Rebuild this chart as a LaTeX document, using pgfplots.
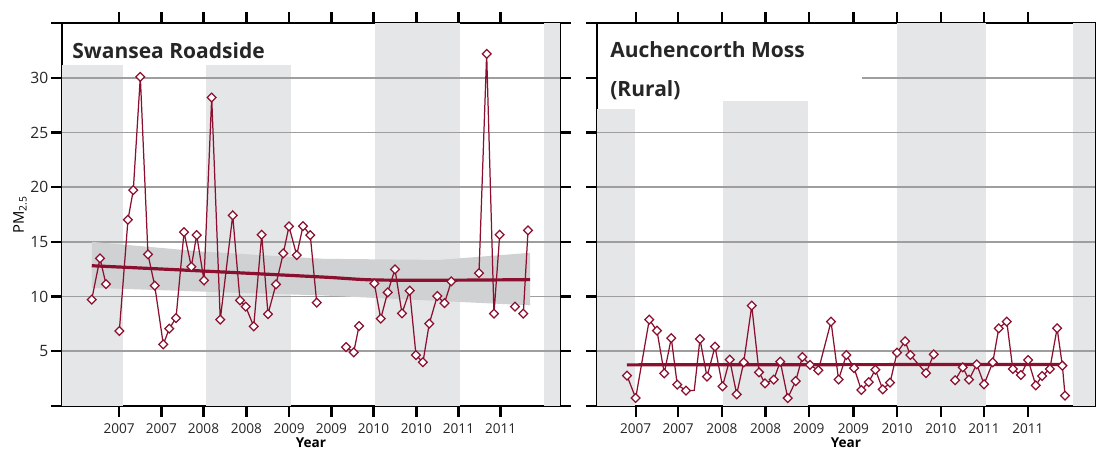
\documentclass[border=0pt]{standalone}
\usepackage{fontspec}
\setmainfont{Open Sans}
\usepackage{pgfplots}
\usepackage{pgfplotstable}
\pgfplotsset{compat=1.18}
\definecolor{dred}{RGB}{139,16,48}
\definecolor{bandgray}{RGB}{229,230,231}
\definecolor{cigray}{RGB}{208,209,211}
\definecolor{gridgray}{RGB}{158,158,158}
\tikzset{gl/.style={gridgray, line width=0.85pt}}

% left panel: x = months since Jan 2007
\pgfplotstableread{
x y
-4.41 9.72
-3.23 13.49
-2.38 11.14
nan nan
-0.48 6.85
0.75 17.02
1.51 19.73
2.51 30.08
3.60 13.85
4.56 11.00
5.78 5.63
6.63 7.07
7.59 8.04
8.73 15.89
9.77 12.73
10.53 15.62
11.57 11.48
12.67 28.19
13.89 7.89
15.66 17.42
16.70 9.65
17.51 9.08
18.65 7.28
19.79 15.65
20.68 8.40
21.82 11.11
22.86 13.95
23.67 16.41
24.77 13.79
25.67 16.44
26.70 15.62
27.62 9.44
nan nan
31.79 5.39
32.88 4.90
33.64 7.31
nan nan
35.82 11.20
36.73 7.98
37.72 10.38
38.76 12.48
39.76 8.47
40.85 10.54
41.75 4.66
42.74 4.00
43.64 7.52
44.78 10.05
45.81 9.41
46.78 11.39
nan nan
50.72 12.15
51.81 32.18
52.85 8.44
53.67 15.65
nan nan
55.84 9.08
nan nan
57.03 8.44
57.70 16.05
}\swansea

% right panel line (all vertices)
\pgfplotstableread{
x y
-1.10 2.78
0.10 0.73
1.96 7.89
3.01 6.89
4.01 2.99
4.97 6.21
5.79 1.95
6.99 1.41
8.12 1.43
8.90 6.12
9.86 2.68
10.96 5.42
11.99 1.80
12.97 4.24
13.93 1.07
14.89 3.99
15.99 9.17
16.99 3.08
17.81 2.07
19.00 2.41
19.90 4.05
20.92 0.73
22.01 2.28
22.92 4.48
23.97 3.75
25.11 3.26
26.85 7.71
27.88 2.42
28.95 4.66
30.00 3.47
31.00 1.46
32.01 2.19
32.92 3.32
33.93 1.52
34.93 2.14
35.89 4.88
36.99 5.91
37.71 4.66
39.86 3.01
40.92 4.72
nan nan
43.84 2.35
44.89 3.53
45.75 2.41
46.81 3.81
47.81 1.98
49.00 3.99
49.82 7.10
50.92 7.71
51.74 3.38
52.84 2.83
53.84 4.20
54.89 1.89
55.75 2.74
56.81 3.38
57.81 7.10
58.53 3.69
58.90 0.95
}\auchline

% right panel marked points
\pgfplotstableread{
x y
-1.10 2.78
0.10 0.73
1.96 7.89
3.01 6.89
4.01 2.99
4.97 6.21
5.79 1.95
6.99 1.41
8.90 6.12
9.86 2.68
10.96 5.42
11.99 1.80
12.97 4.24
13.93 1.07
14.89 3.99
15.99 9.17
16.99 3.08
17.81 2.07
19.00 2.41
19.90 4.05
20.92 0.73
22.01 2.28
22.92 4.48
23.97 3.75
25.11 3.26
26.85 7.71
27.88 2.42
28.95 4.66
30.00 3.47
31.00 1.46
32.01 2.19
32.92 3.32
33.93 1.52
34.93 2.14
35.89 4.88
36.99 5.91
37.71 4.66
39.86 3.01
40.92 4.72
43.84 2.35
44.89 3.53
45.75 2.41
46.81 3.81
47.81 1.98
49.00 3.99
49.82 7.10
50.92 7.71
51.74 3.38
52.84 2.83
53.84 4.20
54.89 1.89
55.75 2.74
56.81 3.38
57.81 7.10
58.53 3.69
58.90 0.95
}\auchmarks

\pgfplotsset{
  panel/.style={
    scale only axis, width=249pt, height=191.5pt,
    ymin=0, ymax=35, ytick={0,5,...,35},
    axis line style={line width=1.4pt},
    tick style={black, line width=1.2pt},
    major tick length=5.3pt,
    tick align=outside,
    xtick pos=both, xticklabel pos=lower,
    unbounded coords=jump,
    /pgf/number format/assume math mode=true,
    xticklabel style={font=\fontsize{6.8}{7}\selectfont, text=black!85},
    yticklabel style={font=\fontsize{7.8}{8}\selectfont, text=black!85, xshift=2pt},
    xlabel={Year},
    xlabel style={font=\bfseries\fontsize{6.8}{7}\selectfont, at={(rel axis cs:0.5,0)}, anchor=center, yshift=-18.4pt},
    xticklabels={2007,2007,2008,2008,2009,2009,2010,2010,2011,2011},
  },
  datline/.style={dred, line width=0.62pt, mark=none, forget plot},
  datmarks/.style={only marks, mark=square*, mark size=1.55pt,
    mark options={rotate=45, fill=white, draw=dred, line width=0.62pt}, forget plot},
  trend/.style={dred, line width=1.6pt, forget plot},
  band/.style={fill=bandgray, draw=none, forget plot},
}

\begin{document}
\begin{tikzpicture}
\useasboundingbox (-31pt,-22.3pt) rectangle (517pt,203pt);
% ---------------- left panel ----------------
\begin{axis}[panel,
  xmin=-8.64, xmax=62.25,
  xtick={-0.5,5.5,11.5,17.6,23.7,29.7,35.7,41.8,47.8,53.8},
  ytick pos=both,
  yticklabels={,5,10,15,20,25,30,},
  ylabel={PM\textsubscript{2.5}},
  ylabel style={font=\fontsize{7.4}{8}\selectfont, at={(rel axis cs:0,0.5)}, anchor=center, yshift=21pt},
]
\addplot[band] coordinates {(-8.64,0) (0,0) (0,31.2) (-8.64,31.2)} -- cycle;
\addplot[band] coordinates {(11.86,0) (23.96,0) (23.96,31.2) (11.86,31.2)} -- cycle;
\addplot[band] coordinates {(35.9,0) (48.0,0) (48.0,35) (35.9,35)} -- cycle;
\addplot[band] coordinates {(60.0,0) (62.25,0) (62.25,35) (60.0,35)} -- cycle;
\draw[gl] (axis cs:-8.64,5) -- (axis cs:62.25,5);
\draw[gl] (axis cs:-8.64,10) -- (axis cs:62.25,10);
\draw[gl] (axis cs:-8.64,15) -- (axis cs:62.25,15);
\draw[gl] (axis cs:-8.64,20) -- (axis cs:62.25,20);
\draw[gl] (axis cs:-8.64,25) -- (axis cs:62.25,25);
\draw[gl] (axis cs:-8.64,30) -- (axis cs:62.25,30);
% confidence band
\addplot[fill=cigray, draw=none, forget plot] coordinates {
  (-4.4,15.0) (11.6,14.1) (28.6,13.45) (45,13.35) (58,14.0)
  (58,9.2) (45,9.6) (28.6,10.1) (11.6,10.45) (-4.4,10.8)} -- cycle;
\addplot[datline] table[x=x,y=y] {\swansea};
\addplot[trend, smooth] coordinates {(-4.4,12.82) (11.6,12.33) (28.6,11.78) (35.8,11.52) (47,11.5) (58,11.55)};
\addplot[datmarks] table[x=x,y=y] {\swansea};
\node[anchor=base west, inner sep=0pt, font=\bfseries\fontsize{10.5}{12}\selectfont, text=black!85]
  at (rel axis cs:0.02,0.9086) {Swansea Roadside};
\end{axis}
% ---------------- right panel ----------------
\begin{axis}[panel, at={(267.5pt,0)},
  xmin=-5.2, xmax=63.0,
  xtick={0.1,5.9,11.9,17.9,23.8,29.9,35.9,41.9,47.8,53.8},
  ytick pos=left,
  yticklabels={},
]
\addplot[band] coordinates {(-5.2,0) (0,0) (0,27.1) (-5.2,27.1)} -- cycle;
\addplot[band] coordinates {(12.05,0) (23.7,0) (23.7,27.9) (12.05,27.9)} -- cycle;
\addplot[band] coordinates {(35.9,0) (48.1,0) (48.1,35) (35.9,35)} -- cycle;
\addplot[band] coordinates {(60.0,0) (63.0,0) (63.0,35) (60.0,35)} -- cycle;
\draw[gl] (axis cs:-5.2,5) -- (axis cs:63,5);
\draw[gl] (axis cs:-5.2,10) -- (axis cs:63,10);
\draw[gl] (axis cs:-5.2,15) -- (axis cs:63,15);
\draw[gl] (axis cs:-5.2,20) -- (axis cs:63,20);
\draw[gl] (axis cs:-5.2,25) -- (axis cs:63,25);
\draw[gl] (axis cs:31.1,30) -- (axis cs:63,30);
\addplot[datline] table[x=x,y=y] {\auchline};
\addplot[trend] coordinates {(-1.1,3.76) (58.9,3.80)};
\addplot[datmarks] table[x=x,y=y] {\auchmarks};
\node[anchor=base west, inner sep=0pt, font=\bfseries\fontsize{10.5}{12}\selectfont, text=black!85]
  at (rel axis cs:0.026,0.911) {Auchencorth Moss};
\node[anchor=base west, inner sep=0pt, font=\bfseries\fontsize{10.5}{12}\selectfont, text=black!85]
  at (rel axis cs:0.026,0.809) {(Rural)};
\end{axis}
\end{tikzpicture}
\end{document}
